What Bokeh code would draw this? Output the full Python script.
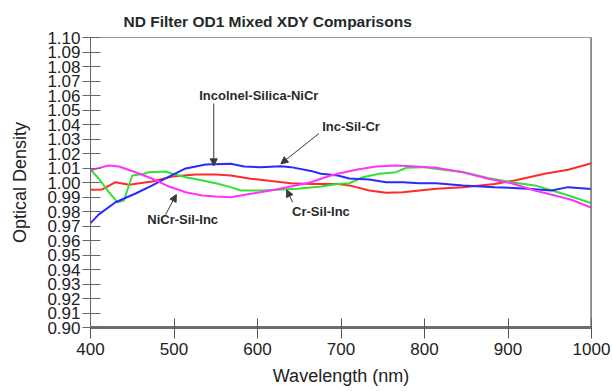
from bokeh.plotting import figure
from bokeh.models import (FixedTicker, NumeralTickFormatter, Range1d, Label, Arrow,
                          NormalHead, Span, Title)
from bokeh.embed import file_html
from bokeh.resources import INLINE

# ---- data ----
blue_nm = [400, 410, 430, 454, 474, 494, 514, 538, 568, 584, 604, 628, 640, 664, 676, 696,
           710, 734, 754, 774, 794, 814, 846, 884, 924, 952, 972, 1000]
blue_od = [0.972, 0.978, 0.9864, 0.9924, 0.998, 1.004, 1.0097, 1.0124, 1.0129, 1.011, 1.0106,
           1.0112, 1.0106, 1.008, 1.006, 1.0048, 1.0028, 1.002, 1.0002, 1.0002, 0.9995, 0.9995,
           0.998, 0.9968, 0.9957, 0.9945, 0.9968, 0.9955]

red_nm = [400, 414, 430, 446, 474, 498, 526, 550, 568, 592, 616, 640, 664, 696, 710, 734,
          754, 774, 794, 814, 846, 884, 908, 944, 972, 1000]
red_od = [0.995, 0.9952, 1.0002, 0.9984, 1.0007, 1.0041, 1.0055, 1.0055, 1.0048, 1.0026, 1.001,
          0.9995, 0.999, 0.999, 0.998, 0.9945, 0.9929, 0.9933, 0.9945, 0.9957, 0.9968, 0.999,
          1.0014, 1.006, 1.0088, 1.0133]

green_nm = [400, 410, 422, 432, 440, 450, 464, 470, 490, 498, 514, 530, 550, 568, 580, 604,
            624, 648, 676, 696, 710, 726, 746, 766, 778, 798, 822, 846, 876, 904, 932, 956,
            976, 1000]
green_od = [1.009, 1.0026, 0.9933, 0.9864, 0.9876, 1.0048, 1.006, 1.0071, 1.0076, 1.006, 1.0036,
            1.0019, 0.9995, 0.9968, 0.9945, 0.9945, 0.995, 0.9957, 0.9972, 0.999, 0.9995, 1.0036,
            1.006, 1.0071, 1.0101, 1.0106, 1.0088, 1.0072, 1.0032, 1.0002, 0.998, 0.994, 0.9903,
            0.9857]

magenta_nm = [400, 406, 422, 434, 454, 474, 494, 514, 534, 550, 568, 592, 616, 640, 664, 684,
              696, 718, 742, 766, 790, 814, 846, 876, 904, 932, 956, 976, 1000]
magenta_od = [1.008, 1.0094, 1.0117, 1.011, 1.0071, 1.0026, 0.9972, 0.9933, 0.991, 0.9903,
              0.9899, 0.9922, 0.9945, 0.9972, 1.0002, 1.0041, 1.006, 1.0088, 1.011, 1.0117,
              1.011, 1.0101, 1.007, 1.0026, 0.9995, 0.9945, 0.991, 0.9881, 0.9826]

y_ticks = [round(0.90 + 0.01 * i, 2) for i in range(21)]
x_ticks = [400, 500, 600, 700, 800, 900, 1000]

FONT = "Liberation Sans"

p = figure(width=612, height=391, output_backend="svg", toolbar_location=None,
           x_range=Range1d(400, 1000), y_range=Range1d(0.90, 1.10),
           min_border_left=90, min_border_right=21, min_border_top=37, min_border_bottom=64)
p.background_fill_color = "white"
p.border_fill_color = "white"
p.outline_line_color = "#9a9a9a"
p.outline_line_width = 1
p.grid.visible = False

title = Title(text="ND Filter OD1 Mixed XDY Comparisons", align="left", offset=33,
              text_font=FONT, text_font_size="15.5px", text_font_style="bold",
              text_color="#1f2a28", standoff=15)
p.add_layout(title, "above")

# axes
xa = p.xaxis[0]
xa.ticker = FixedTicker(ticks=x_ticks)
xa.axis_label = "Wavelength (nm)"
xa.axis_label_text_font = FONT
xa.axis_label_text_font_size = "18px"
xa.axis_label_text_font_style = "normal"
xa.axis_label_text_color = "#222222"
xa.axis_label_standoff = 8
xa.major_label_text_font = FONT
xa.major_label_text_font_size = "17px"
xa.major_label_text_color = "#222222"
xa.major_label_standoff = 4
xa.axis_line_color = "#6e6e6e"
xa.axis_line_width = 3
xa.major_tick_line_color = "#555555"
xa.major_tick_in = 9
xa.major_tick_out = 11
xa.minor_tick_line_color = None

ya = p.yaxis[0]
ya.ticker = FixedTicker(ticks=y_ticks)
ya.formatter = NumeralTickFormatter(format="0.00")
ya.axis_label = "Optical Density"
ya.axis_label_text_font = FONT
ya.axis_label_text_font_size = "18px"
ya.axis_label_text_font_style = "normal"
ya.axis_label_text_color = "#222222"
ya.axis_label_standoff = 14
ya.major_label_text_font = FONT
ya.major_label_text_font_size = "17px"
ya.major_label_text_color = "#222222"
ya.major_label_standoff = 2
ya.axis_line_color = "#666666"
ya.axis_line_width = 1
ya.major_tick_line_color = "#666666"
ya.major_tick_in = 10
ya.major_tick_out = 8
ya.minor_tick_line_color = None

# right frame edge (thicker grey)
p.add_layout(Span(location=1000, dimension="height", line_color="#7a7a7a", line_width=2.5))

LW = 2
p.line(red_nm, red_od, line_color="#ff2a2a", line_width=LW)
p.line(green_nm, green_od, line_color="#33e033", line_width=LW)
p.line(blue_nm, blue_od, line_color="#2a2aff", line_width=LW)
p.line(magenta_nm, magenta_od, line_color="#ff33ff", line_width=LW)

# annotations
ann_color = "#3a3a3a"
arrows = [
    (547.6, 1.0545, 547.6, 1.0115),
    (673.6, 1.0338, 628.0, 1.0129),
    (490.0, 0.9780, 502.8, 0.9917),
    (642.0, 0.9864, 635.0, 0.9950),
]
for x0, y0, x1, y1 in arrows:
    p.add_layout(Arrow(end=NormalHead(size=7, fill_color=ann_color, line_color=ann_color),
                       x_start=x0, y_start=y0, x_end=x1, y_end=y1,
                       line_color=ann_color, line_width=1))

labels = [
    ("Incolnel-Silica-NiCr", 601.6, 1.0600),
    ("Inc-Sil-Cr", 712.0, 1.0386),
    ("NiCr-Sil-Inc", 510.4, 0.9745),
    ("Cr-Sil-Inc", 676.0, 0.9800),
]
for txt, x, y in labels:
    p.add_layout(Label(x=x, y=y, text=txt, text_align="center", text_baseline="middle",
                       text_font=FONT, text_font_size="13px", text_font_style="bold",
                       text_color="#2a2a2a"))

open("out.html", "w").write(file_html(p, INLINE))
